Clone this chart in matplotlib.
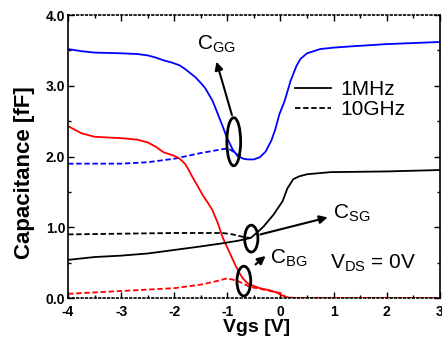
import matplotlib
matplotlib.use('Agg')
import matplotlib.pyplot as plt
from matplotlib.patches import Ellipse
from matplotlib.lines import Line2D
from matplotlib.ticker import MultipleLocator, FormatStrFormatter

plt.rcParams['font.family'] = ['Liberation Sans', 'DejaVu Sans']
plt.rcParams['mathtext.fontset'] = 'custom'
plt.rcParams['mathtext.rm'] = 'Liberation Sans'
plt.rcParams['axes.unicode_minus'] = False

# C_GG, 1 MHz (solid blue)
x_cgg = [-4.0, -3.75, -3.5, -3.0, -2.7, -2.5, -2.35, -2.2, -2.05, -1.9, -1.8, -1.7, -1.6,
         -1.5, -1.42, -1.35, -1.28, -1.2, -1.1, -1.01, -0.9, -0.81, -0.7, -0.62, -0.5,
         -0.39, -0.28, -0.17, -0.1, -0.02, 0.08, 0.19, 0.3, 0.375, 0.5, 0.75, 1.0, 1.37,
         2.0, 3.0]
c_gg = [3.52, 3.49, 3.47, 3.46, 3.45, 3.43, 3.40, 3.36, 3.33, 3.29, 3.24, 3.18, 3.12,
        3.04, 2.97, 2.88, 2.79, 2.64, 2.45, 2.27, 2.10, 2.01, 1.97, 1.96, 1.96,
        1.99, 2.07, 2.23, 2.38, 2.60, 2.79, 3.07, 3.28, 3.38, 3.46, 3.52, 3.54, 3.56,
        3.59, 3.62]
# C_GG, 10 GHz (dashed blue)
x_cgg_hf = [-4.0, -3.5, -3.0, -2.5, -2.0, -1.5, -1.2, -1.05, -0.95, -0.85, -0.78]
c_gg_hf = [1.90, 1.90, 1.90, 1.92, 1.97, 2.05, 2.09, 2.11, 2.10, 2.05, 2.01]

# C_BG, 1 MHz (solid red)
x_cbg = [-4.0, -3.75, -3.5, -3.0, -2.7, -2.5, -2.35, -2.2, -2.0, -1.9, -1.8, -1.72, -1.65,
         -1.55, -1.46, -1.37, -1.28, -1.18, -1.09, -1.0, -0.92, -0.84, -0.77, -0.7, -0.62,
         -0.5, -0.39, -0.2, -0.08, 0.11, 0.3, 1.0, 3.0]
c_bg = [2.43, 2.33, 2.28, 2.26, 2.24, 2.20, 2.14, 2.06, 2.01, 1.97, 1.90, 1.80, 1.70,
        1.57, 1.45, 1.35, 1.24, 1.06, 0.86, 0.71, 0.58, 0.45, 0.35, 0.27, 0.21,
        0.17, 0.14, 0.11, 0.08, 0.01, 0.0, 0.0, 0.0]
# C_BG, 10 GHz (dashed red)
x_cbg_hf = [-4.0, -3.0, -2.0, -1.5, -1.2, -1.0, -0.8, -0.58, -0.26, 0.0, 0.11, 0.3]
c_bg_hf = [0.06, 0.10, 0.14, 0.19, 0.24, 0.28, 0.24, 0.16, 0.11, 0.07, 0.01, 0.0]

# C_SG, 1 MHz (solid black)
x_csg = [-4.0, -3.5, -3.0, -2.5, -2.0, -1.5, -1.13, -0.8, -0.56, -0.45, -0.32, -0.13,
         0.04, 0.13, 0.24, 0.35, 0.5, 0.94, 2.0, 3.0]
c_sg = [0.54, 0.58, 0.60, 0.63, 0.68, 0.73, 0.77, 0.81, 0.85, 0.92, 1.01, 1.18,
        1.37, 1.55, 1.68, 1.72, 1.75, 1.78, 1.79, 1.81]
# C_SG, 10 GHz (dashed black)
x_csg_hf = [-4.0, -3.0, -2.0, -1.09, -0.9, -0.68, -0.56]
c_sg_hf = [0.90, 0.91, 0.92, 0.92, 0.90, 0.86, 0.85]

dash = (0, (3, 1.5))

fig, ax = plt.subplots(figsize=(4.42, 3.43), dpi=100)
fig.subplots_adjust(left=0.154, right=0.995, bottom=0.131, top=0.956)

ax.plot(x_cgg, c_gg, color='#0000ff', lw=1.3)
ax.plot(x_cgg_hf, c_gg_hf, color='#0000ff', lw=1.3, ls=dash)
ax.plot(x_cbg, c_bg, color='#ff0000', lw=1.3)
ax.plot(x_cbg_hf, c_bg_hf, color='#ff0000', lw=1.3, ls=dash)
ax.plot(x_csg, c_sg, color='black', lw=1.3)
ax.plot(x_csg_hf, c_sg_hf, color='black', lw=1.3, ls=dash)

# ellipses marking the curves
for cx, cy, w, h in [(-0.88, 2.21, 0.26, 0.68), (-0.55, 0.84, 0.25, 0.38),
                     (-0.69, 0.24, 0.26, 0.42)]:
    ax.add_patch(Ellipse((cx, cy), w, h, fill=False, ec='black', lw=2, zorder=5))

arr = dict(arrowstyle='-|>', color='black', lw=1.5, mutation_scale=12)
ax.annotate('', xy=(-1.22, 3.38), xytext=(-0.9, 2.55), arrowprops=arr)
ax.annotate('', xy=(0.94, 1.15), xytext=(-0.43, 0.89), arrowprops=arr)
ax.annotate('', xy=(-0.24, 0.62), xytext=(-0.51, 0.45), arrowprops=arr)

ax.text(-1.58, 3.59, r'$\mathregular{C_{GG}}$', fontsize=15, va='center')
ax.text(0.99, 1.2, r'$\mathregular{C_{SG}}$', fontsize=15, va='center')
ax.text(-0.2, 0.56, r'$\mathregular{C_{BG}}$', fontsize=15, va='center')
ax.text(0.94, 0.49, r'$\mathregular{V_{DS}}$ = 0V', fontsize=15, va='center')

handles = [Line2D([], [], color='black', lw=1.3),
           Line2D([], [], color='black', lw=1.3, ls=dash)]
ax.legend(handles, ['1MHz', '10GHz'], loc='upper left', bbox_to_anchor=(0.61, 0.77),
          frameon=False, fontsize=15, handlelength=1.75, handletextpad=0.45,
          labelspacing=0.05, borderpad=0, borderaxespad=0)

ax.set_xlim(-4, 3)
ax.set_ylim(0, 4)
ax.xaxis.set_major_locator(MultipleLocator(1))
ax.xaxis.set_minor_locator(MultipleLocator(0.5))
ax.yaxis.set_major_locator(MultipleLocator(1))
ax.yaxis.set_minor_locator(MultipleLocator(0.5))
ax.yaxis.set_major_formatter(FormatStrFormatter('%.1f'))
ax.tick_params(which='both', direction='in', top=True, right=True)
ax.tick_params(axis='x', pad=5)
ax.tick_params(axis='y', pad=2)
ax.tick_params(which='major', length=4, width=1)
ax.tick_params(which='minor', length=2, width=1)
for lab in ax.get_xticklabels() + ax.get_yticklabels():
    lab.set_fontweight('bold')
    lab.set_fontsize(10)

ax.spines['top'].set_linestyle(':')
ax.spines['bottom'].set_linestyle(':')
for s in ax.spines.values():
    s.set_linewidth(1.2)

ax.set_xlabel('Vgs [V]', fontsize=14, fontweight='bold')
ax.set_ylabel('Capacitance [fF]', fontsize=16, fontweight='bold')
ax.xaxis.set_label_coords(0.508, -0.075)
ax.yaxis.set_label_coords(-0.09, 0.445)

plt.savefig('out.png', dpi=100)
